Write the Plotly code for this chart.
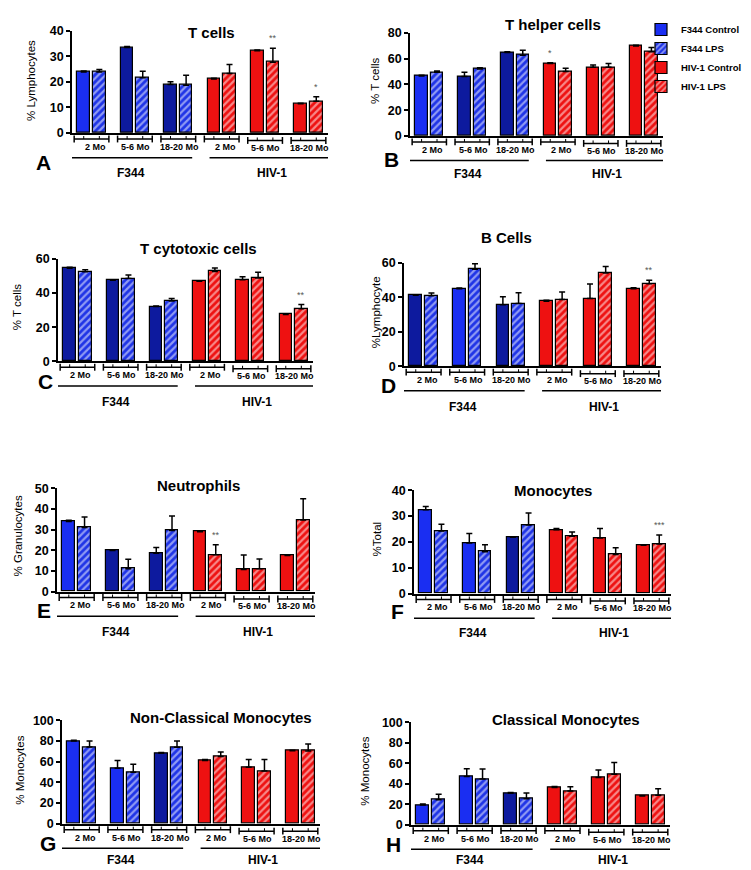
import plotly.graph_objects as go

W, H = 751, 870

# ---------------- data ----------------
ages = ["2 Mo", "5-6 Mo", "18-20 Mo"]
strains = ["F344", "HIV-1"]
series_names = ["F344 Control", "F344 LPS", "HIV-1 Control", "HIV-1 LPS"]
letters = ["A", "B", "C", "D", "E", "F", "G", "H"]
titles = ["T cells", "T helper cells", "T cytotoxic cells", "B Cells",
          "Neutrophils", "Monocytes", "Non-Classical Monocytes", "Classical Monocytes"]
ylabels = ["% Lymphocytes", "% T cells", "% T cells", "%Lymphocyte",
           "% Granulocytes", "%Total", "% Monocytes", "% Monocytes"]
ymax = [40, 80, 60, 60, 50, 40, 100, 100]
ystep = [10, 20, 20, 20, 10, 10, 20, 20]

# A  T cells
tc_f344_ctrl = [23.9, 33.4, 19.0]; tc_f344_ctrl_err = [0.4, 0.4, 1.1]
tc_f344_lps = [23.9, 21.6, 18.7];  tc_f344_lps_err = [0.9, 2.6, 3.9]
tc_hiv_ctrl = [21.1, 32.2, 11.5];  tc_hiv_ctrl_err = [0.3, 0.3, 0.2]
tc_hiv_lps = [23.3, 27.7, 12.4];   tc_hiv_lps_err = [3.5, 5.5, 1.8]
tc_stars = ["", "**", "*"]
# B  T helper cells
th_f344_ctrl = [46.5, 46.0, 64.7]; th_f344_ctrl_err = [0.6, 3.3, 0.5]
th_f344_lps = [49.3, 51.9, 62.6];  th_f344_lps_err = [1.0, 1.0, 3.9]
th_hiv_ctrl = [56.2, 53.2, 69.8];  th_hiv_ctrl_err = [0.5, 1.8, 0.5]
th_hiv_lps = [50.0, 53.2, 65.2];   th_hiv_lps_err = [2.4, 3.0, 3.3]
th_stars_ctrl = ["*", "", ""]
# C  T cytotoxic cells
tx_f344_ctrl = [54.6, 47.5, 32.1]; tx_f344_ctrl_err = [0.6, 0.3, 0.4]
tx_f344_lps = [52.5, 48.5, 35.4];  tx_f344_lps_err = [1.2, 2.1, 1.5]
tx_hiv_ctrl = [46.9, 47.9, 27.5];  tx_hiv_ctrl_err = [0.2, 1.7, 0.4]
tx_hiv_lps = [52.7, 48.8, 30.8];   tx_hiv_lps_err = [2.1, 3.5, 2.5]
tx_stars = ["", "", "**"]
# D  B cells
bc_f344_ctrl = [41.2, 45.0, 35.7]; bc_f344_ctrl_err = [0.3, 0.4, 4.7]
bc_f344_lps = [41.0, 56.4, 36.4];  bc_f344_lps_err = [1.6, 3.2, 6.3]
bc_hiv_ctrl = [37.8, 39.3, 45.0];  bc_hiv_ctrl_err = [0.5, 8.4, 0.6]
bc_hiv_lps = [38.7, 54.2, 47.9];   bc_hiv_lps_err = [4.4, 3.8, 2.1]
bc_stars = ["", "", "**"]
# E  Neutrophils
ne_f344_ctrl = [33.9, 19.9, 18.6]; ne_f344_ctrl_err = [0.6, 0.3, 2.7]
ne_f344_lps = [31.0, 11.1, 29.5];  ne_f344_lps_err = [5.1, 4.5, 7.1]
ne_hiv_ctrl = [29.0, 10.7, 17.4];  ne_hiv_ctrl_err = [0.3, 7.0, 0.3]
ne_hiv_lps = [17.8, 11.0, 34.6];   ne_hiv_lps_err = [4.8, 4.8, 10.3]
ne_stars = ["**", "", ""]
# F  Monocytes
mo_f344_ctrl = [32.4, 19.6, 21.8]; mo_f344_ctrl_err = [1.3, 3.6, 0.2]
mo_f344_lps = [24.2, 16.2, 26.5];  mo_f344_lps_err = [2.6, 2.7, 4.7]
mo_hiv_ctrl = [24.7, 21.5, 18.7];  mo_hiv_ctrl_err = [0.5, 3.7, 0.1]
mo_hiv_lps = [22.2, 15.1, 19.2];   mo_hiv_lps_err = [1.6, 2.6, 3.5]
mo_stars = ["", "", "***"]
# G  Non-Classical Monocytes
nc_f344_ctrl = [80.0, 53.7, 68.3]; nc_f344_ctrl_err = [0.8, 7.6, 0.8]
nc_f344_lps = [74.3, 49.8, 74.0];  nc_f344_lps_err = [5.7, 7.7, 6.0]
nc_hiv_ctrl = [61.3, 54.6, 70.8];  nc_hiv_ctrl_err = [0.8, 7.6, 0.3]
nc_hiv_lps = [65.1, 51.1, 70.5];   nc_hiv_lps_err = [4.4, 11.1, 6.6]
nc_stars = ["", "", ""]
# H  Classical Monocytes
cm_f344_ctrl = [19.2, 47.1, 30.8]; cm_f344_ctrl_err = [1.0, 7.7, 0.8]
cm_f344_lps = [24.4, 44.6, 25.3];  cm_f344_lps_err = [5.4, 9.9, 5.8]
cm_hiv_ctrl = [36.5, 46.2, 28.2];  cm_hiv_ctrl_err = [1.0, 7.3, 0.2]
cm_hiv_lps = [33.0, 49.4, 28.8];   cm_hiv_lps_err = [4.2, 11.5, 6.5]
cm_stars = ["", "", ""]

panels = [
    (tc_f344_ctrl, tc_f344_ctrl_err, tc_f344_lps, tc_f344_lps_err, tc_hiv_ctrl, tc_hiv_ctrl_err, tc_hiv_lps, tc_hiv_lps_err, ["", "", ""], tc_stars),
    (th_f344_ctrl, th_f344_ctrl_err, th_f344_lps, th_f344_lps_err, th_hiv_ctrl, th_hiv_ctrl_err, th_hiv_lps, th_hiv_lps_err, th_stars_ctrl, ["", "", ""]),
    (tx_f344_ctrl, tx_f344_ctrl_err, tx_f344_lps, tx_f344_lps_err, tx_hiv_ctrl, tx_hiv_ctrl_err, tx_hiv_lps, tx_hiv_lps_err, ["", "", ""], tx_stars),
    (bc_f344_ctrl, bc_f344_ctrl_err, bc_f344_lps, bc_f344_lps_err, bc_hiv_ctrl, bc_hiv_ctrl_err, bc_hiv_lps, bc_hiv_lps_err, ["", "", ""], bc_stars),
    (ne_f344_ctrl, ne_f344_ctrl_err, ne_f344_lps, ne_f344_lps_err, ne_hiv_ctrl, ne_hiv_ctrl_err, ne_hiv_lps, ne_hiv_lps_err, ["", "", ""], ne_stars),
    (mo_f344_ctrl, mo_f344_ctrl_err, mo_f344_lps, mo_f344_lps_err, mo_hiv_ctrl, mo_hiv_ctrl_err, mo_hiv_lps, mo_hiv_lps_err, ["", "", ""], mo_stars),
    (nc_f344_ctrl, nc_f344_ctrl_err, nc_f344_lps, nc_f344_lps_err, nc_hiv_ctrl, nc_hiv_ctrl_err, nc_hiv_lps, nc_hiv_lps_err, ["", "", ""], nc_stars),
    (cm_f344_ctrl, cm_f344_ctrl_err, cm_f344_lps, cm_f344_lps_err, cm_hiv_ctrl, cm_hiv_ctrl_err, cm_hiv_lps, cm_hiv_lps_err, ["", "", ""], cm_stars),
]

# ---------------- layout / style (pixels) ----------------
boxes = [(64, 320, 16, 120), (402, 655, 18, 123), (50, 305, 248, 352), (396, 653, 252, 357),
         (49, 307, 481, 586), (406, 663, 483, 588), (54, 312, 717, 822), (403, 662, 719, 823)]
title_pos = [(203, 18), (545, 10), (190, 237), (498, 226), (190, 478), (545, 483), (213, 714), (558, 716)]
ylab_pos = [(23, 67), (367, 67), (9, 297), (368, 302), (10, 530), (369, 533), (12, 768), (357, 769)]
letter_pos = [(35, 150), (383, 147), (37, 372), (380, 377), (36, 605), (389, 606), (40, 842), (385, 843)]
group_lab_off = [41, 39, 41, 41, 41, 40, 37, 36]

BRIGHT, NAVY = "#1a2ef2", "#0d1a9e"
STRIPE_BLUE = "#1f34e6"
RED = "#ee1111"
ctrl_blue = [[BRIGHT, NAVY, NAVY], [BRIGHT, NAVY, NAVY], [NAVY, NAVY, NAVY], [NAVY, BRIGHT, NAVY],
             [BRIGHT, NAVY, NAVY], [BRIGHT, BRIGHT, NAVY], [BRIGHT, BRIGHT, NAVY], [BRIGHT, BRIGHT, NAVY]]

FONT = "Liberation Sans, Arial, sans-serif"
OFF = 0.18
BW = 0.29
XR = [-0.45, 5.45]

fig = go.Figure()
annotations = []
shapes = []
layout = {}

def px2paper_x(px):
    return px / W

def px2paper_y(py):
    return 1 - py / H

for i, p in enumerate(panels):
    (fc, fce, fl, fle, hc, hce, hl, hle, star_c, star_l) = p
    s = "" if i == 0 else str(i + 1)
    xa, ya = "x" + s, "y" + s
    x0, x1, yt, yb = boxes[i]
    hpx = yb - yt
    f344_c = [k for k in range(3)]
    hiv_c = [k + 3 for k in range(3)]
    showleg = (i == 0)
    zeros = [0, 0, 0]
    common = dict(xaxis=xa, yaxis=ya, width=BW, cliponaxis=False)

    def eb(e):
        return dict(type="data", array=e, arrayminus=zeros, symmetric=False,
                    color="black", thickness=1.5, width=3)

    stripe = lambda bg: dict(shape="/", bgcolor=bg, fgcolor="white", size=5, solidity=0.45)
    fig.add_trace(go.Bar(x=[c - OFF for c in f344_c], y=fc, error_y=eb(fce), name=series_names[0],
                         marker=dict(color=ctrl_blue[i], line=dict(color="black", width=1.2)),
                         showlegend=showleg, legendrank=1, **common))
    fig.add_trace(go.Bar(x=[c + OFF for c in f344_c], y=fl, error_y=eb(fle), name=series_names[1],
                         marker=dict(color=STRIPE_BLUE, line=dict(color="black", width=1.2),
                                     pattern=stripe(STRIPE_BLUE)),
                         showlegend=showleg, legendrank=2, **common))
    fig.add_trace(go.Bar(x=[c - OFF for c in hiv_c], y=hc, error_y=eb(hce), name=series_names[2],
                         marker=dict(color=RED, line=dict(color="black", width=1.2)),
                         showlegend=showleg, legendrank=3, **common))
    fig.add_trace(go.Bar(x=[c + OFF for c in hiv_c], y=hl, error_y=eb(hle), name=series_names[3],
                         marker=dict(color=RED, line=dict(color="black", width=1.2),
                                     pattern=stripe(RED)),
                         showlegend=showleg, legendrank=4, **common))

    layout["xaxis" + s] = dict(domain=[px2paper_x(x0), px2paper_x(x1)], range=XR, anchor=ya,
                               showticklabels=False, ticks="", showgrid=False, zeroline=False,
                               showline=True, linecolor="black", linewidth=1.5, fixedrange=True)
    layout["yaxis" + s] = dict(domain=[px2paper_y(yb), px2paper_y(yt)], range=[0, ymax[i]], anchor=xa,
                               tickmode="linear", tick0=0, dtick=ystep[i], ticks="outside",
                               ticklen=4, tickwidth=1.5, tickcolor="black",
                               showline=True, linecolor="black", linewidth=1.5,
                               showgrid=False, zeroline=False,
                               tickfont=dict(family=FONT, size=12.5, color="black", weight="bold"))

    # significance stars
    for k in range(3):
        if star_c[k]:
            annotations.append(dict(x=hiv_c[k] - OFF, y=hc[k] + hce[k], xref=xa, yref=ya, text=star_c[k],
                                    showarrow=False, yanchor="bottom", yshift=3,
                                    font=dict(family=FONT, size=9, color="#555")))
        if star_l[k]:
            annotations.append(dict(x=hiv_c[k] + OFF, y=hl[k] + hle[k], xref=xa, yref=ya, text=star_l[k],
                                    showarrow=False, yanchor="bottom", yshift=3,
                                    font=dict(family=FONT, size=9, color="#555")))

    # brackets + age labels
    ydom = ya + " domain"
    d = lambda px: -px / hpx
    for g in range(6):
        c = g
        ybr = d(6) if g < 4 else d(7.5)
        line = dict(color="black", width=1.5)
        shapes.append(dict(type="line", xref=xa, yref=ydom, x0=c - 0.4, x1=c + 0.4, y0=ybr, y1=ybr, line=line))
        for ex in (c - 0.4, c + 0.4):
            shapes.append(dict(type="line", xref=xa, yref=ydom, x0=ex, x1=ex,
                               y0=ybr - 3.5 / hpx, y1=ybr + 3.5 / hpx, line=line))
        for ex in (c - OFF, c + OFF):
            shapes.append(dict(type="line", xref=xa, yref=ydom, x0=ex, x1=ex,
                               y0=ybr, y1=ybr + 3 / hpx, line=dict(color="black", width=1)))
        annotations.append(dict(x=c + (0.08 if g in (0, 3) else 0.02), y=d(14) if g < 4 else d(15),
                                xref=xa, yref=ydom, text=ages[g % 3],
                                showarrow=False, yanchor="middle",
                                font=dict(family=FONT, size=9, color="black", weight="bold")))
    # strain lines + labels
    for gi, (xa0, xa1, xl) in enumerate([(-0.48, 2.32, 0.9), (2.72, 5.48, 4.15)]):
        shapes.append(dict(type="line", xref=xa, yref=ydom, x0=xa0, x1=xa1, y0=d(25), y1=d(25),
                           line=dict(color="black", width=1.5)))
        annotations.append(dict(x=xl, y=d(group_lab_off[i]), xref=xa, yref=ydom, text=strains[gi],
                                showarrow=False, yanchor="middle",
                                font=dict(family=FONT, size=12, color="black", weight="bold")))
    # title
    tx, ty = title_pos[i]
    annotations.append(dict(x=px2paper_x(tx), y=px2paper_y(ty), xref="paper", yref="paper", text=titles[i],
                            showarrow=False, xanchor="center", yanchor="middle",
                            font=dict(family=FONT, size=15, color="black", weight="bold")))
    # y label
    lxp, lyp = ylab_pos[i]
    annotations.append(dict(x=px2paper_x(lxp), y=px2paper_y(lyp), xref="paper", yref="paper",
                            text=ylabels[i], textangle=-90, showarrow=False, xanchor="center", yanchor="middle",
                            font=dict(family=FONT, size=11.5, color="black")))
    # panel letter
    lx, ly = letter_pos[i]
    annotations.append(dict(x=px2paper_x(lx), y=px2paper_y(ly), xref="paper", yref="paper", text=letters[i],
                            showarrow=False, xanchor="center", yanchor="middle",
                            font=dict(family=FONT, size=21, color="black", weight="bold")))

fig.update_layout(
    width=W, height=H, margin=dict(l=0, r=0, t=0, b=0),
    paper_bgcolor="white", plot_bgcolor="white",
    barmode="overlay", bargap=0,
    showlegend=True,
    legend=dict(x=px2paper_x(633), y=1.0, xanchor="left", yanchor="top",
                font=dict(family=FONT, size=9.5, color="black", weight="bold"),
                bgcolor="rgba(0,0,0,0)", tracegroupgap=0, itemwidth=30),
    annotations=annotations, shapes=shapes,
    **layout,
)

fig.write_html("out.html")
